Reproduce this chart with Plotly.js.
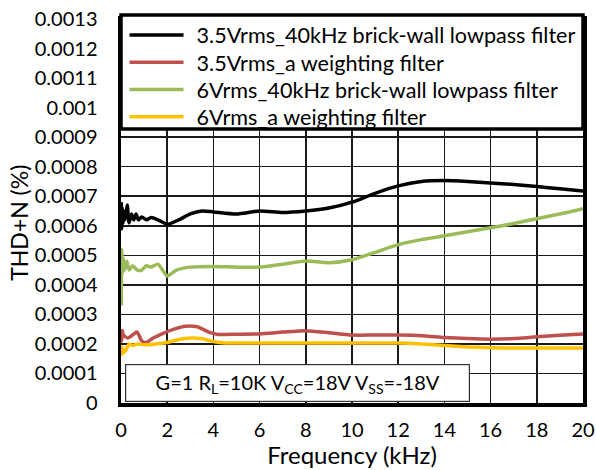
<!DOCTYPE html>
<html>
<head>
<meta charset="utf-8">
<script src="https://cdn.plot.ly/plotly-3.0.1.min.js"></script>
<style>
html,body{margin:0;padding:0;background:#fff;}
#chart{width:596px;height:470px;}
</style>
</head>
<body>
<div id="chart"></div>
<script>
// Series names
const seriesNames = [
  "3.5Vrms_40kHz brick-wall lowpass filter",
  "3.5Vrms_a weighting filter",
  "6Vrms_40kHz brick-wall lowpass filter",
  "6Vrms_a weighting filter"
];
// Frequency (kHz) and THD+N (%) values
const freqBlack = [0.01,0.03,0.05,0.08,0.12,0.17,0.22,0.27,0.35,0.45,0.55,0.65,0.75,0.9,1.1,1.3,1.6,2.0,2.5,3.0,3.5,4,5,6,7,8,9,10,11,12,13,14,15,16,17,18,19,20];
const thdBlack  = [0.00068,0.00059,0.00066,0.00061,0.00065,0.00062,0.00064,0.00067,0.00061,0.00064,0.00062,0.00064,0.00062,0.00063,0.00062,0.000628,0.00062,0.000605,0.00062,0.00064,0.00065,0.000647,0.00064,0.00065,0.000645,0.00065,0.00066,0.00068,0.00071,0.000735,0.00075,0.000753,0.00075,0.000745,0.00074,0.000733,0.000725,0.000718];

const freqRed = [0.01,0.03,0.06,0.1,0.3,0.5,0.7,0.9,1.1,1.4,1.8,2.3,2.8,3.3,3.8,4.2,5,6,7,8,9,10,11,12,13,14,15,16,17,18,19,20];
const thdRed  = [0.00025,0.00021,0.000245,0.00023,0.00022,0.00023,0.00024,0.00021,0.000205,0.00022,0.000235,0.00025,0.00026,0.000258,0.00024,0.000232,0.000233,0.000234,0.00024,0.000245,0.000238,0.00023,0.00023,0.00023,0.000228,0.000222,0.000218,0.000216,0.000218,0.000224,0.000229,0.000234];

const freqGreen = [0.01,0.03,0.06,0.1,0.15,0.25,0.35,0.5,0.7,0.9,1.1,1.3,1.6,2.0,2.4,3,4,5,6,7,8,9,10,11,12,13,14,15,16,17,18,19,20];
const thdGreen  = [0.00033,0.00052,0.00044,0.00049,0.00045,0.00048,0.00045,0.000465,0.00045,0.00045,0.000465,0.00046,0.00047,0.00043,0.00045,0.00046,0.000462,0.00046,0.00046,0.00047,0.000481,0.000475,0.000485,0.00051,0.000536,0.000553,0.000566,0.00058,0.000593,0.000608,0.000624,0.00064,0.000658];

const freqYellow = [0.01,0.05,0.1,0.2,0.35,0.5,0.7,1,1.5,2,2.5,3,3.5,4,4.5,5,6,7,8,9,10,11,12,13,14,15,16,17,18,19,20];
const thdYellow  = [0.00016,0.00019,0.00017,0.000178,0.0002,0.000195,0.0002,0.000197,0.0002,0.000205,0.000215,0.00022,0.000218,0.000208,0.000203,0.000203,0.000203,0.000203,0.000203,0.000203,0.000203,0.000203,0.000203,0.0002,0.000195,0.00019,0.000187,0.000186,0.000186,0.000186,0.000186];

const seriesColors = ["#000000","#C0504D","#9BBB59","#FFC000"];

const xTickVals = [0,2,4,6,8,10,12,14,16,18,20];
const yTickVals = [0,0.0001,0.0002,0.0003,0.0004,0.0005,0.0006,0.0007,0.0008,0.0009,0.001,0.0011,0.0012,0.0013];
const yTickText = ["0","0.0001","0.0002","0.0003","0.0004","0.0005","0.0006","0.0007","0.0008","0.0009","0.001","0.0011","0.0012","0.0013"];

const xs = [freqBlack, freqRed, freqGreen, freqYellow];
const ys = [thdBlack, thdRed, thdGreen, thdYellow];

const traces = seriesNames.map((n,i)=>({
  x: xs[i], y: ys[i], name: n, type:'scatter', mode:'lines',
  line:{color: seriesColors[i], width: 3.5, shape:'spline', smoothing:0.6}
}));

const fam = 'Lato, "Open Sans", sans-serif';

const layout = {
  width:596, height:470,
  margin:{l:121, r:13, t:19, b:67},
  paper_bgcolor:'#fff', plot_bgcolor:'#fff',
  font:{size:20, family:fam, color:'#000'},
  showlegend:true,
  legend:{
    x:0.012, y:1.012, xanchor:'left', yanchor:'top',
    bgcolor:'rgba(0,0,0,0)', borderwidth:0,
    font:{size:21.6, family:fam, color:'#000'},
    itemwidth:60, tracegroupgap:0
  },
  xaxis:{
    range:[0,20], tickvals:xTickVals, ticktext:xTickVals.map(String),
    showgrid:true, gridcolor:'#1a1a1a', gridwidth:1.5,
    showline:true, linecolor:'#000', linewidth:3.5, mirror:true,
    ticks:'', ticklabelstandoff:6, zeroline:false,
    tickfont:{size:20},
    title:{text:'Frequency (kHz)', font:{size:24}, standoff:0}
  },
  yaxis:{
    range:[0,0.0013], tickvals:yTickVals, ticktext:yTickText,
    showgrid:true, gridcolor:'#1a1a1a', gridwidth:1.5,
    showline:true, linecolor:'#000', linewidth:3.5, mirror:true,
    ticks:'', ticklabelstandoff:16, zeroline:false,
    tickfont:{size:20},
    title:{text:'THD+N (%)&nbsp;&nbsp;&nbsp;&nbsp;', font:{size:23}, standoff:0}
  },
  shapes:[
    {type:'rect', xref:'paper', yref:'paper', x0:0, x1:1, y0:0.7135, y1:1.0104,
     fillcolor:'#fff', line:{color:'#000', width:3.5}, layer:'above'}
  ],
  annotations:[
    {xref:'paper', yref:'paper', x:0.0087, y:0.0026, xanchor:'left', yanchor:'bottom',
     text:'G=1 R<sub>L</sub>=10K V<sub>CC</sub>=18V V<sub>SS</sub>=-18V',
     showarrow:false, font:{size:20, family:fam, color:'#000'},
     bgcolor:'#fff', bordercolor:'#333', borderwidth:1.2, borderpad:0,
     width:343, height:36, align:'center', valign:'middle'}
  ]
};

Plotly.newPlot('chart', traces, layout, {displayModeBar:false, staticPlot:true}).then(gd=>{
  // lengthen the legend line samples to match the reference
  gd.querySelectorAll('.legendlines path').forEach(p=>p.setAttribute('d','M3,0h54'));
  // tighten legend row spacing to the reference's 27px
  const items = Array.from(gd.querySelectorAll('.legend .traces'));
  if (items.length) {
    const m = /translate\(\s*([-\d.]+)[ ,]+([-\d.]+)\s*\)/.exec(items[0].getAttribute('transform') || '');
    if (m) {
      const x0 = parseFloat(m[1]), y0 = parseFloat(m[2]);
      items.forEach((it,i)=>it.setAttribute('transform','translate('+x0+','+(y0 + i*27.3)+')'));
    }
  }
});
</script>
</body>
</html>
